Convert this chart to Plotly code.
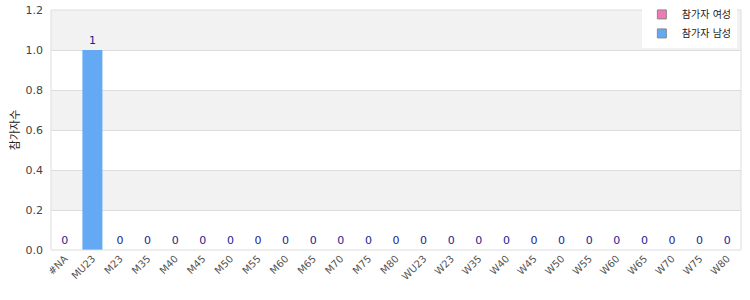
import plotly.graph_objects as go

categories = ["#NA", "MU23", "M23", "M35", "M40", "M45", "M50", "M55", "M60", "M65",
              "M70", "M75", "M80", "WU23", "W23", "W35", "W40", "W45", "W50", "W55",
              "W60", "W65", "W70", "W75", "W80"]
female_values = [0, 0, 0, 0, 0, 0, 0, 0, 0, 0, 0, 0, 0, 0, 0, 0, 0, 0, 0, 0, 0, 0, 0, 0, 0]
male_values = [0, 1, 0, 0, 0, 0, 0, 0, 0, 0, 0, 0, 0, 0, 0, 0, 0, 0, 0, 0, 0, 0, 0, 0, 0]
total_values = [f + m for f, m in zip(female_values, male_values)]
series_names = ["참가자 여성", "참가자 남성"]
series_colors = ["#f07ab6", "#63a9f4"]
y_title = "참가자수"

FONT = "DejaVu Sans, Noto Sans CJK KR, sans-serif"

fig = go.Figure()
fig.add_trace(go.Bar(
    x=categories, y=female_values, name=series_names[0], showlegend=False,
    marker=dict(color=series_colors[0], line=dict(width=0)),
))
fig.add_trace(go.Bar(
    x=categories, y=male_values, name=series_names[1], showlegend=False,
    marker=dict(color=series_colors[1], line=dict(width=0)),
    text=[str(v) for v in total_values], textposition="outside",
    textfont=dict(color="#1c1c8f", size=11, family=FONT),
    cliponaxis=False,
))
# legend entries
for name, col in zip(series_names, series_colors):
    fig.add_trace(go.Scatter(
        x=[None], y=[None], mode="markers", name=name,
        marker=dict(symbol="square", size=9, color=col,
                    line=dict(color="#888888", width=1)),
    ))

shapes = []
for i in range(6):
    y0 = i * 0.2
    if i % 2 == 1:
        shapes.append(dict(type="rect", xref="paper", yref="y", x0=0, x1=1,
                           y0=y0, y1=y0 + 0.2, fillcolor="#f2f2f2",
                           line=dict(width=0), layer="below"))
shapes.append(dict(type="rect", xref="paper", yref="paper", x0=0, x1=1, y0=0, y1=1,
                   line=dict(color="#dddddd", width=1), layer="above"))

fig.update_layout(
    width=750, height=300,
    margin=dict(l=51, r=9, t=10, b=50, autoexpand=False),
    barmode="overlay", bargap=0.275,
    plot_bgcolor="white", paper_bgcolor="white",
    font=dict(family=FONT, size=11, color="#444444"),
    shapes=shapes,
    showlegend=True,
    legend=dict(x=0.994, xanchor="right", y=1.042, yanchor="top",
                bgcolor="white", font=dict(size=10, color="#222222"),
                tracegroupgap=0, itemwidth=30),
)
fig.update_xaxes(
    type="category", tickangle=-45, showgrid=False,
    showline=False, ticks="", tickfont=dict(size=10, color="#555555"),
)
fig.update_yaxes(
    range=[0, 1.2], dtick=0.2, tickformat=".1f", showgrid=True,
    gridcolor="#dddddd", gridwidth=1, zeroline=False, showline=False,
    tickfont=dict(size=11, color="#444444"), ticklabelstandoff=7,
    title=dict(text=y_title, font=dict(size=11, color="#222222"), standoff=3),
)

fig.write_html("out.html")
